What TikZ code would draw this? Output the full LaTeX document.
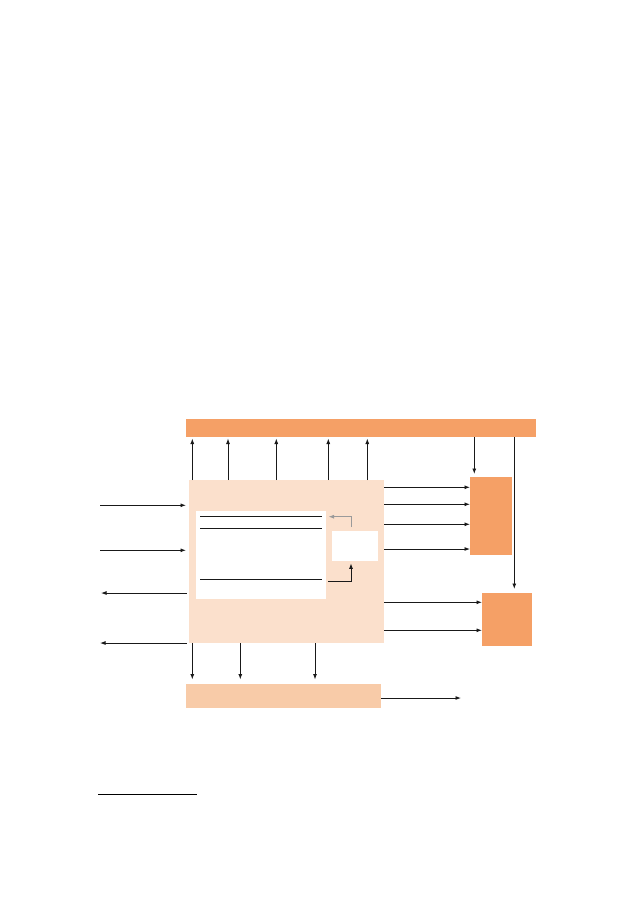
\documentclass[tikz,border=0pt]{standalone}
\usetikzlibrary{arrows.meta,calc}
\definecolor{barc}{HTML}{F5A066}
\definecolor{mainc}{HTML}{FBE0CC}
\definecolor{botc}{HTML}{F8CBA8}
\definecolor{grayarr}{HTML}{9A9A9A}
\tikzset{
  blk/.style={draw=none, inner sep=0pt, outer sep=0pt, rectangle},
  arr/.style={line width=0.9pt, draw=black!90, -{Latex[length=5.5pt,width=4pt]}},
  plain/.style={line width=0.9pt, draw=black!90},
}
\begin{document}
\begin{tikzpicture}[x=1pt,y=-1pt]
\useasboundingbox (0,0) rectangle (630,906);
% boxes
\node[blk, fill=barc, minimum width=350pt, minimum height=18pt] (top) at (361,428) {};
\node[blk, fill=mainc, minimum width=195pt, minimum height=163pt] (main) at (286.5,561.5) {};
\node[blk, fill=white, minimum width=130pt, minimum height=88pt] (inner) at (261,555) {};
\node[blk, fill=white, minimum width=46pt, minimum height=30pt] (small) at (355,546) {};
\node[blk, fill=barc, minimum width=42pt, minimum height=78pt] (rbA) at (491,516) {};
\node[blk, fill=barc, minimum width=50pt, minimum height=53pt] (rbB) at (507,619.5) {};
\node[blk, fill=botc, minimum width=195pt, minimum height=24pt] (bot) at (283.5,696) {};
% x positions
\coordinate (u1) at (192.3,0);
\coordinate (u2) at (228,0);
\coordinate (u3) at (276.3,0);
\coordinate (u4) at (328.3,0);
\coordinate (u5) at (367.3,0);
\coordinate (d2) at (240.3,0);
\coordinate (d3) at (315,0);
\coordinate (t1) at (474.3,0);
\coordinate (t2) at (514.3,0);
\coordinate (gx) at (351,0);
% y positions
\coordinate (r1) at (0,487.3);
\coordinate (r2) at (0,504.3);
\coordinate (r3) at (0,524.3);
\coordinate (r4) at (0,549);
\coordinate (s1) at (0,602.3);
\coordinate (s2) at (0,630.3);
\coordinate (ga) at (0,516.7);
\coordinate (ba) at (0,581.3);
% free ends
\coordinate (inA) at (100,505.3);
\coordinate (inB) at (100,550.3);
\coordinate (outA) at (101,593);
\coordinate (outB) at (100,643);
\coordinate (outC) at (461,698);
% up arrows to top bar
\foreach \u in {u1,u2,u3,u4,u5}
  \draw[arr, shorten >=1.5pt] (main.north -| \u) -- (top.south -| \u);
% arrows from top bar
\draw[arr, shorten >=3pt] (top.south -| t1) -- (rbA.north -| t1);
\draw[arr, shorten >=4pt] (top.south -| t2) -- (rbB.north -| t2);
% right arrows
\foreach \r in {r1,r2,r3,r4}
  \draw[arr] (main.east |- \r) -- (rbA.west |- \r);
\foreach \s in {s1,s2}
  \draw[arr] (main.east |- \s) -- (rbB.west |- \s);
% left arrows
\draw[arr, shorten >=3pt] (inA) -- (main.west |- inA);
\draw[arr, shorten >=3pt] (inB) -- (main.west |- inB);
\draw[arr, shorten <=2.5pt] (main.west |- outA) -- (outA);
\draw[arr, shorten <=2.5pt] (main.west |- outB) -- (outB);
% down arrows to bottom box
\foreach \d in {u1,d2,d3}
  \draw[arr, shorten >=4.5pt] (main.south -| \d) -- (bot.north -| \d);
\draw[arr] (bot.east |- outC) -- (outC);
% inner lines
\draw[plain] ($(inner.north west)+(4,5.7)$) -- ($(inner.north east)+(-4,5.7)$);
\draw[plain] ($(inner.north west)+(4,17.3)$) -- ($(inner.north east)+(-4,17.3)$);
\draw[plain] ($(inner.north west)+(4,68.5)$) -- ($(inner.north east)+(-4,68.5)$);
% feedback arrows
\draw[line width=0.9pt, draw=grayarr, -{Latex[length=5.5pt,width=4pt]}, shorten <=4pt, shorten >=2.5pt]
  (small.north -| gx) |- (inner.east |- ga);
\draw[arr, shorten <=2pt, shorten >=2.3pt]
  (inner.east |- ba) -| (small.south -| gx);
% footnote rule
\draw[line width=0.9pt] (98.3,794.4) -- (196.7,794.4);
\end{tikzpicture}
\end{document}
